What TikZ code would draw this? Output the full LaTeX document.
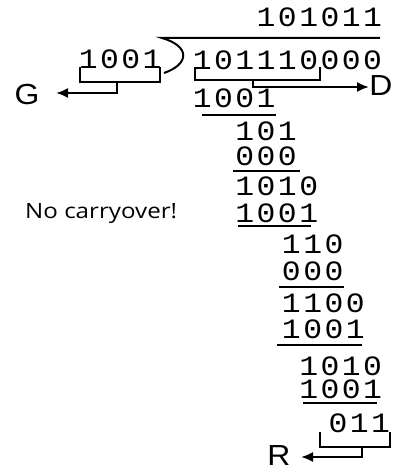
\documentclass[tikz,border=0pt]{standalone}
\usepackage{fontspec}
\usetikzlibrary{arrows.meta}
\newfontfamily\monof{Liberation Mono}
\newfontfamily\sansf{Liberation Sans}
\newfontfamily\notef{Open Sans}
\newlength\pitchlen
\setlength\pitchlen{21.3pt}
\def\digitsloop#1{\ifx#1\relax\else\makebox[\pitchlen][c]{\scalebox{1.12}[1]{#1}}\expandafter\digitsloop\fi}
\newcommand\dgrow[1]{\smash{\digitsloop#1\relax}}
\newcommand\wideletter[1]{\scalebox{1.1}[1]{#1}}
\begin{document}
\begin{tikzpicture}[x=1pt,y=-1pt,
  row/.style={inner sep=0pt,anchor=base west,font=\monof\fontsize{28}{28}\selectfont},
  letter/.style={inner sep=0pt,font=\sansf\fontsize{29}{29}\selectfont},
  rule/.style={line width=2.6pt},
  brk/.style={line width=2pt},
  arr/.style={line width=2pt,-{Latex[length=12pt,width=10pt]}}]
\useasboundingbox (0,0) rectangle (392,468);
% column left edge: 202-10.65 + k*21.3
\def\cx#1{191.35+#1*21.3}
\node[row] (q)   at ({\cx{3}},27) {\dgrow{101011}};
\node[row] (dvsr) at (77.35,69) {\dgrow{1001}};
\node[row] (dvd) at ({\cx{0}},70) {\dgrow{101110000}};
\node[row] (a1)  at ({\cx{0}},108) {\dgrow{1001}};
\node[row] (a2)  at ({\cx{2}},140) {\dgrow{101}};
\node[row] (a3)  at ({\cx{2}},165) {\dgrow{000}};
\node[row] (a4)  at ({\cx{2}},195) {\dgrow{1010}};
\node[row] (a5)  at ({\cx{2}},222) {\dgrow{1001}};
\node[row] (a6)  at ({\cx{4}+4},253) {\dgrow{110}};
\node[row] (a7)  at ({\cx{4}+4},280) {\dgrow{000}};
\node[row] (a8)  at ({\cx{4}+4},312) {\dgrow{1100}};
\node[row] (a9)  at ({\cx{4}+4},338) {\dgrow{1001}};
\node[row] (a10) at ({\cx{5}},375) {\dgrow{1010}};
\node[row] (a11) at ({\cx{5}},398) {\dgrow{1001}};
\node[row] (a12) at ({\cx{6}+8},432) {\dgrow{011}};
% division sign
\draw[brk] (380,38) -- (162,38) .. controls (190,46) and (190,64) .. (164,73);
% subtraction rules
\draw[rule] (202,115) -- (276,115);
\draw[rule] (233,171) -- (300,171);
\draw[rule] (238,226) -- (311,226);
\draw[rule] (279,287) -- (344,287);
\draw[rule] (277,345) -- (362,345);
\draw[rule] (303,403) -- (377,403);
% labels
\node[letter] (G) at (27,95) {\wideletter{G}};
\node[letter] (D) at (381,86) {\wideletter{D}};
\node[letter] (R) at (279,456) {\wideletter{R}};
\coordinate (gt) at (56,93);
\coordinate (dt) at (369,87);
\coordinate (rt) at (301,457);
% brackets and arrows
\draw[brk] (80,67) -- (80,82) -- (160,82) -- (160,67);
\draw[arr] (117,82) -- (117,93) -- (gt);
\draw[brk] (195,67) -- (195,80) -- (320,80) -- (320,67);
\draw[arr] (253,80) -- (253,87) -- (dt);
\draw[brk] (320,432) -- (320,447) -- (390,447) -- (390,432);
\draw[arr] (362,447) -- (362,457) -- (rt);
% note
\node[inner sep=0pt,anchor=base west,font=\notef\fontsize{21}{21}\selectfont] (note) at (25,218) {\scalebox{1.15}[1]{No carryover!}};
\end{tikzpicture}
\end{document}
